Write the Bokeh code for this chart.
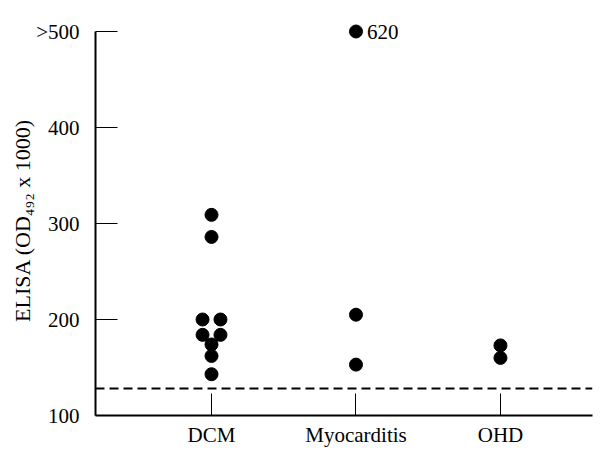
from bokeh.plotting import figure
from bokeh.models import Span, Label, FixedTicker, Range1d, ColumnDataSource
from bokeh.embed import file_html
from bokeh.resources import INLINE

# ---- data ----
categories = ["DCM", "Myocarditis", "OHD"]
dcm_values = [309, 286, 200, 200, 184, 184, 174, 162, 143]
myo_values = [500, 205, 153]  # 500 shown as ">500" (actual 620)
ohd_values = [173, 160]
cutoff = 128
ytick_values = [100, 200, 300, 400, 500]
ytick_labels = ["100", "200", "300", "400", ">500"]
top_note = "620"
y_title = "ELISA (OD\u2084\u2089\u2082  x 1000)"

# layout: horizontal dodge (in category units) for overlapping dots
dcm_dodge = [0, 0, -0.062, 0.062, -0.062, 0.062, 0, 0, 0]

FONT = "Liberation Serif"

p = figure(width=598, height=449, output_backend="svg", toolbar_location=None,
           x_range=Range1d(0.197, 3.637), y_range=Range1d(100, 512.5),
           min_border_left=95, min_border_right=6, min_border_top=19,
           min_border_bottom=30)
p.outline_line_color = None
p.xgrid.visible = False
p.ygrid.visible = False
p.background_fill_color = "white"

xs = [1 + d for d in dcm_dodge] + [2] * len(myo_values) + [3] * len(ohd_values)
ys = dcm_values + myo_values + ohd_values
src = ColumnDataSource(dict(x=xs, y=ys))
p.scatter("x", "y", source=src, size=13, fill_color="black", line_color="black")

p.add_layout(Span(location=cutoff, dimension="width", line_color="black",
                  line_width=2, line_dash="9 5"))

# y axis
ya = p.yaxis[0]
ya.ticker = FixedTicker(ticks=ytick_values)
ya.major_label_overrides = {v: l for v, l in zip(ytick_values, ytick_labels)}
ya.bounds = (100, 500)
ya.major_tick_in = 22
ya.major_tick_out = 0
ya.minor_tick_in = 0
ya.minor_tick_out = 0
ya.axis_line_width = 2
ya.major_tick_line_width = 1
ya.major_label_standoff = 16
ya.major_label_text_font = FONT
ya.major_label_text_font_size = "21px"
ya.major_label_text_color = "black"
ya.axis_label = y_title
ya.axis_label_text_font = FONT
ya.axis_label_text_font_size = "22px"
ya.axis_label_text_font_style = "normal"
ya.axis_label_text_color = "black"
ya.axis_label_standoff = -2

# x axis
xa = p.xaxis[0]
xa.ticker = FixedTicker(ticks=[1, 2, 3])
xa.major_label_overrides = {i + 1: c for i, c in enumerate(categories)}
xa.major_tick_in = 22
xa.major_tick_out = 0
xa.minor_tick_in = 0
xa.minor_tick_out = 0
xa.axis_line_width = 2
xa.major_tick_line_width = 1
xa.major_label_standoff = 7
xa.major_label_text_font = FONT
xa.major_label_text_font_size = "21px"
xa.major_label_text_color = "black"

# annotation for the off-scale value
p.add_layout(Label(x=2, y=myo_values[0], text=top_note, x_offset=11,
                   text_baseline="middle", text_font=FONT,
                   text_font_size="21px", text_color="black"))

open("out.html", "w").write(file_html(p, INLINE))
